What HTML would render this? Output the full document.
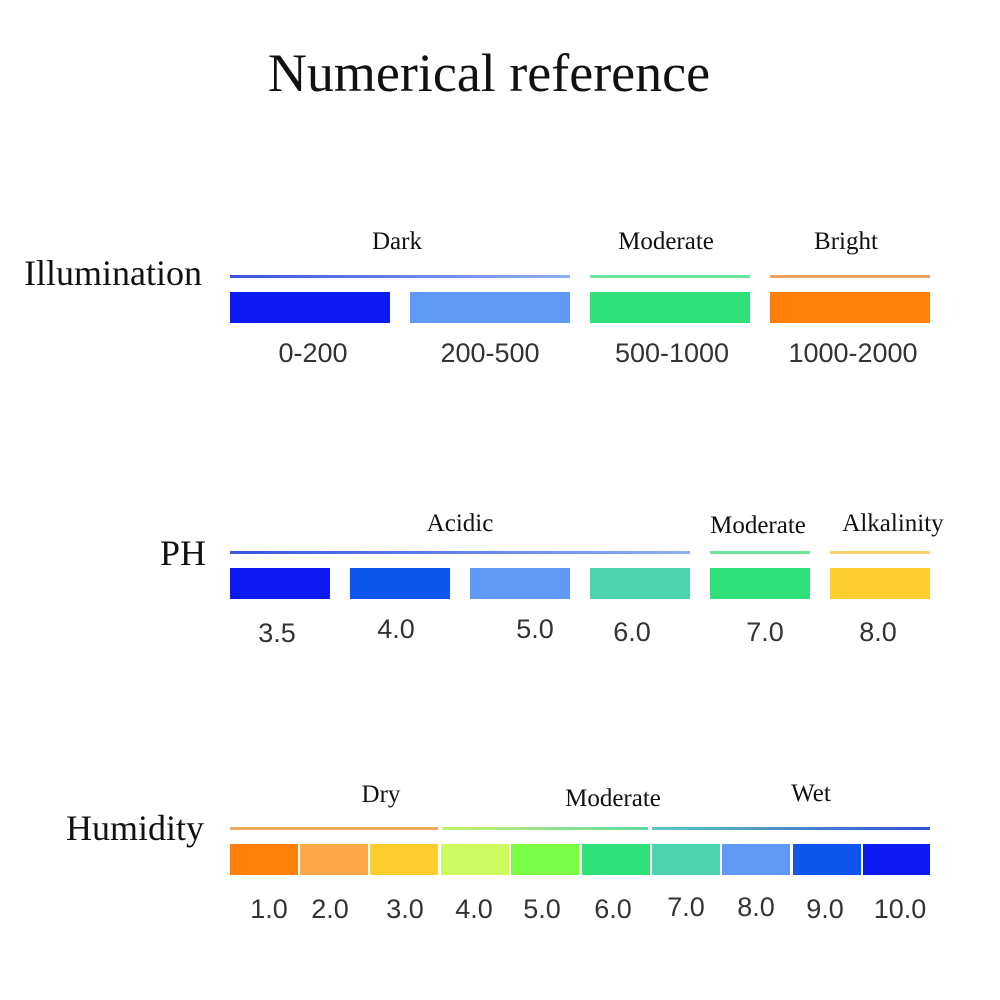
<!DOCTYPE html>
<html><head><style>
body{margin:0;width:1000px;height:1000px;background:#fff;position:relative;overflow:hidden;font-family:"Liberation Serif",serif}
div{position:absolute}
.t{white-space:nowrap;color:#111}
.b{height:31px}
.l{height:3px}
.n{font-family:"Liberation Sans","DejaVu Sans",sans-serif;font-size:27px;color:#333;white-space:nowrap;transform:translateX(-50%);top:0}
.c{transform:translateX(-50%)}
</style></head><body>
<div class="t c" style="left:489px;top:42px;font-size:54px">Numerical reference</div>

<div class="t" style="left:24px;top:252px;font-size:36px">Illumination</div>
<div class="t c" style="left:397px;top:228px;font-size:25px">Dark</div>
<div class="t c" style="left:666px;top:228px;font-size:25px">Moderate</div>
<div class="t c" style="left:846px;top:228px;font-size:25px">Bright</div>
<div class="l" style="left:230px;top:275px;width:340px;background:linear-gradient(90deg,#3a55e0,#8fb0f0)"></div>
<div class="l" style="left:590px;top:275px;width:160px;background:#6ee39a"></div>
<div class="l" style="left:770px;top:275px;width:160px;background:#f0a060"></div>
<div class="b" style="left:230px;top:292px;width:160px;background:#0a1af0"></div>
<div class="b" style="left:410px;top:292px;width:160px;background:#5f9af8"></div>
<div class="b" style="left:590px;top:292px;width:160px;background:#30e078"></div>
<div class="b" style="left:770px;top:292px;width:160px;background:#ff7f08"></div>
<div style="top:338px;left:0;width:1000px;height:40px">
<div class="n" style="left:313px">0-200</div><div class="n" style="left:490px">200-500</div><div class="n" style="left:672px">500-1000</div><div class="n" style="left:853px">1000-2000</div></div>

<div class="t" style="left:160px;top:532px;font-size:36px">PH</div>
<div class="t c" style="left:460px;top:510px;font-size:25px">Acidic</div>
<div class="t c" style="left:758px;top:512px;font-size:25px">Moderate</div>
<div class="t c" style="left:893px;top:510px;font-size:25px">Alkalinity</div>
<div class="l" style="left:230px;top:551px;width:460px;background:linear-gradient(90deg,#3a55e0,#8fb0f0)"></div>
<div class="l" style="left:710px;top:551px;width:100px;background:#6ee39a"></div>
<div class="l" style="left:830px;top:551px;width:100px;background:#f8d070"></div>
<div class="b" style="left:230px;top:568px;width:100px;background:#0a1af0"></div>
<div class="b" style="left:350px;top:568px;width:100px;background:#0e55ee"></div>
<div class="b" style="left:470px;top:568px;width:100px;background:#5f9af8"></div>
<div class="b" style="left:590px;top:568px;width:100px;background:#4dd4ae"></div>
<div class="b" style="left:710px;top:568px;width:100px;background:#30e078"></div>
<div class="b" style="left:830px;top:568px;width:100px;background:#ffcc2e"></div>
<div style="top:614px;left:0;width:1000px;height:40px">
<div class="n" style="left:277px;top:4px">3.5</div><div class="n" style="left:396px">4.0</div><div class="n" style="left:535px">5.0</div><div class="n" style="left:632px;top:3px">6.0</div><div class="n" style="left:765px;top:3px">7.0</div><div class="n" style="left:878px;top:3px">8.0</div></div>

<div class="t" style="left:66px;top:807px;font-size:36px">Humidity</div>
<div class="t c" style="left:381px;top:781px;font-size:25px">Dry</div>
<div class="t c" style="left:613px;top:785px;font-size:25px">Moderate</div>
<div class="t c" style="left:811px;top:780px;font-size:25px">Wet</div>
<div class="l" style="left:230px;top:827px;width:208px;background:#f0a860"></div>
<div class="l" style="left:442px;top:827px;width:206px;background:linear-gradient(90deg,#c8f070,#60d8a0)"></div>
<div class="l" style="left:652px;top:827px;width:278px;background:linear-gradient(90deg,#60c8c0,#3050d8)"></div>
<div class="b" style="left:230px;top:844px;width:68px;background:#ff7f08"></div>
<div class="b" style="left:300px;top:844px;width:68px;background:#ffa84a"></div>
<div class="b" style="left:370px;top:844px;width:68px;background:#ffcc2e"></div>
<div class="b" style="left:441px;top:844px;width:68px;background:#ccfb60"></div>
<div class="b" style="left:511px;top:844px;width:68px;background:#7afc44"></div>
<div class="b" style="left:582px;top:844px;width:68px;background:#30e078"></div>
<div class="b" style="left:652px;top:844px;width:68px;background:#4dd4ae"></div>
<div class="b" style="left:722px;top:844px;width:68px;background:#5f9af8"></div>
<div class="b" style="left:793px;top:844px;width:68px;background:#0e55ee"></div>
<div class="b" style="left:863px;top:844px;width:67px;background:#0a1af0"></div>
<div style="top:894px;left:0;width:1000px;height:40px">
<div class="n" style="left:269px">1.0</div><div class="n" style="left:330px">2.0</div><div class="n" style="left:405px">3.0</div><div class="n" style="left:474px">4.0</div><div class="n" style="left:542px">5.0</div><div class="n" style="left:613px">6.0</div><div class="n" style="left:686px;top:-2px">7.0</div><div class="n" style="left:756px;top:-2px">8.0</div><div class="n" style="left:825px">9.0</div><div class="n" style="left:900px">10.0</div></div>
</body></html>
